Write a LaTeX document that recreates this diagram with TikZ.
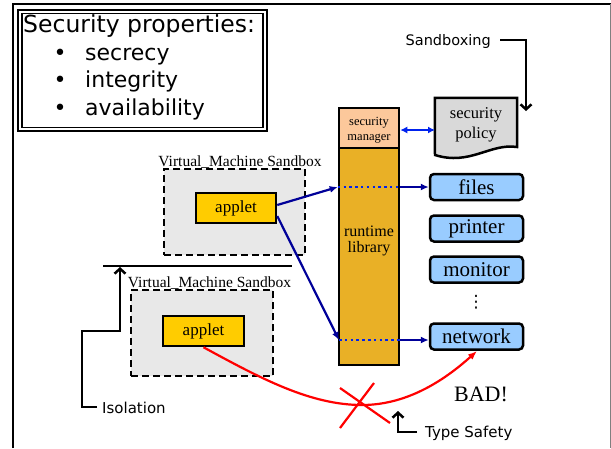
\documentclass[tikz,border=0pt]{standalone}
\usepackage{fontspec}
\setmainfont{Liberation Serif}
\newfontfamily\comicfont{DejaVu Sans}
\usetikzlibrary{arrows.meta}

\definecolor{sandgray}{HTML}{E8E8E8}
\definecolor{appletyellow}{HTML}{FFCC00}
\definecolor{runtimegold}{HTML}{E9B026}
\definecolor{managerpeach}{HTML}{FCC89B}
\definecolor{devblue}{HTML}{99CCFF}
\definecolor{policygray}{HTML}{D9D9D9}
\definecolor{callblue}{HTML}{000099}
\definecolor{linkblue}{HTML}{0022EE}

\begin{document}
\begin{tikzpicture}[x=1pt,y=-1pt,
  box/.style={draw, line width=2.5pt, inner sep=0pt},
  sandbox/.style={draw, line width=2.5pt, dash pattern=on 7pt off 4pt,
    fill=sandgray, inner sep=0pt, minimum width=141, minimum height=86},
  vmlabel/.style={anchor=base, inner sep=0pt, font=\fontsize{15.5}{18}\selectfont},
  appletbox/.style={box, fill=appletyellow, minimum width=80, minimum height=30,
    font=\fontsize{17}{20}\selectfont},
  device/.style={box, rounded corners=4pt, fill=devblue, minimum width=93,
    minimum height=26, font=\fontsize{21}{24}\selectfont},
  comic/.style={font=\comicfont\fontsize{#1}{#1}\selectfont},
  comic/.default=15,
  callout/.style={line width=2.5pt, -{Straight Barb[length=5pt,width=11pt]}},
  call/.style={callblue, line width=2.2pt, -{Latex[length=8pt,width=7pt]}},
  dotcall/.style={linkblue, line width=2.8pt, dash pattern=on 2.5pt off 3.3pt},
  badcall/.style={red, line width=2.2pt, -{Latex[length=9pt,width=7pt]}},
]
\useasboundingbox (0,0) rectangle (611,448);

% page frame
\draw[line width=2.5pt] (13,448) -- (13,4) -- (611,4);
\draw[gray, line width=1pt] (610,4) -- (610,448);

% security properties panel
\node[box, line width=2.5pt, minimum width=249, minimum height=121] (props) at (142.5,70.5) {};
\node[box, line width=1.2pt, minimum width=241, minimum height=114] (propsin) at (142.5,70.5) {};
\node[comic=23.5, anchor=base west, inner sep=0pt] (ptitle) at (23,32) {Security properties:};
\node[comic=22, anchor=base, inner sep=0pt] (b1) at (60,60) {•};
\node[comic=22, anchor=base, inner sep=0pt] (b2) at (60,87) {•};
\node[comic=22, anchor=base, inner sep=0pt] (b3) at (60,115) {•};
\node[comic=22, anchor=base west, inner sep=0pt] (p1) at (85,60) {secrecy};
\node[comic=22, anchor=base west, inner sep=0pt] (p2) at (85,87) {integrity};
\node[comic=22, anchor=base west, inner sep=0pt] (p3) at (85,115) {availability};

% runtime column
\node[box, fill=managerpeach, minimum width=60, minimum height=40] (secmgr) at (369,128) {};
\node[align=center, inner sep=0pt, font=\fontsize{12.5}{15}\selectfont] (secmgrtext) at (369,130) {security\\manager};
\node[box, fill=runtimegold, minimum width=60, minimum height=217] (runtime) at (369,256.5) {};
\node[align=center, inner sep=0pt, font=\fontsize{16}{15.5}\selectfont] (rttext) at (369,241) {runtime\\library};

% security policy document
\node[inner sep=0pt, minimum width=82, minimum height=49] (policy) at (476,122.5) {};
\draw[line width=2.5pt, fill=policygray] (policy.north west) -- (policy.north east) -- (517,147)
  .. controls (490,143) and (470,166) .. (435,155) -- cycle;
\node[align=center, inner sep=0pt, font=\fontsize{16.5}{20}\selectfont] (policytext) at (476,125) {security\\policy};
\coordinate (polW) at (435,130);
\draw[linkblue, line width=2.2pt, {Latex[length=7pt,width=7pt]}-{Latex[length=7pt,width=7pt]}]
  (secmgr.east |- polW) -- (polW);

% sandboxing callout
\node[comic=14.5, anchor=base east, inner sep=0pt] (sandboxing) at (491,45) {Sandboxing};
\coordinate (sbtip) at (526,111);
\draw[callout] (sandboxing.east |- 0,40) ++(9,0) -| (sbtip);

% devices
\node[device] (files) at (476.5,187) {files};
\node[device] (printer) at (476.5,228.5) {printer};
\node[device] (monitor) at (476.5,269.5) {monitor};
\node[inner sep=0pt, font=\comicfont\fontsize{17}{17}\selectfont] (more) at (476,302) {⋮};
\node[device] (network) at (476.5,336.5) {network};

% upper sandbox
\node[sandbox] (vm1) at (234.5,212) {};
\node[vmlabel] (vm1label) at (240,166) {Virtual\_Machine Sandbox};
\node[appletbox] (applet1) at (236,208) {applet};

% separator and lower sandbox
\draw[line width=2.5pt] (103,266) -- (292,266);
\node[sandbox, minimum width=142] (vm2) at (202,333) {};
\node[vmlabel] (vm2label) at (209.5,287) {Virtual\_Machine Sandbox};
\node[appletbox, minimum width=81] (applet2) at (203.5,331) {applet};

% allowed calls through the runtime library
\coordinate (rtf) at (runtime.west |- files.west);
\coordinate (rtn) at (339,340);
\draw[dotcall] (rtf) -- (rtf -| runtime.east);
\draw[call] (rtf -| runtime.east) -- (files.west);
\draw[dotcall] (rtn) -- (rtn -| runtime.east);
\draw[call] (rtn -| runtime.east) -- (rtn -| network.west);
\draw[call] ([yshift=3pt]applet1.east) -- (rtf);
\draw[call] ([yshift=-8pt]applet1.east) -- (rtn);

% direct call bypassing the library
\coordinate (netin) at (477,351);
\draw[badcall] (applet2.south) .. controls (260,378) and (310,405) .. (362,405)
  .. controls (410,405) and (448,377) .. (netin);
\draw[red, line width=2.2pt] (340,388) -- (390,423);
\draw[red, line width=2.2pt] (374,383) -- (340,428);
\node[anchor=base, inner sep=0pt, font=\fontsize{22}{24}\selectfont] (bad) at (481,401) {BAD!};

% isolation callout
\node[comic=15, anchor=base west, inner sep=0pt] (iso) at (102,413) {Isolation};
\coordinate (isotip) at (120,267);
\draw[callout] (iso.west |- 0,407) ++(-5,0) -| (82,331) -| (isotip);

% type safety callout
\node[comic=15, anchor=base west, inner sep=0pt] (ts) at (425,437) {Type Safety};
\coordinate (tstip) at (398,411);
\draw[callout] (ts.west |- 0,432) ++(-8,0) -| (tstip);
\end{tikzpicture}
\end{document}
